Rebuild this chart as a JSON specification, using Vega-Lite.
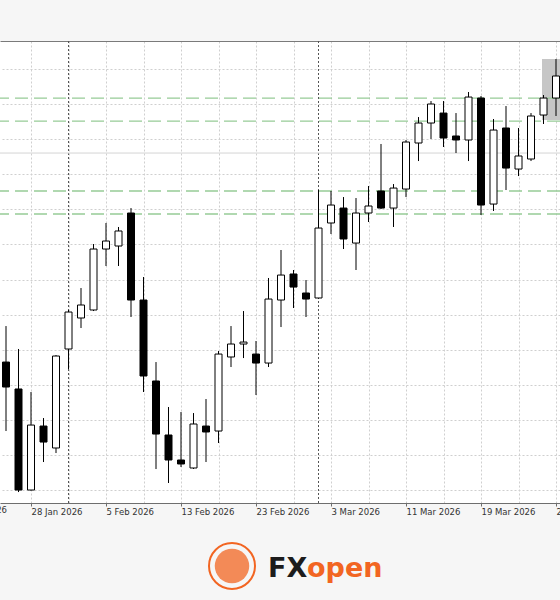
{
  "$schema": "https://vega.github.io/schema/vega-lite/v6.json",
  "width": 560,
  "height": 462,
  "autosize": {"type": "none"},
  "padding": {"left": 0, "top": 41, "right": 0, "bottom": 97},
  "background": "#f6f6f6",
  "config": {"view": {"stroke": null, "fill": "white"}},
  "datasets": {
    "candles": [
      {"i": 0, "date": "26 Jan 2026", "open": 118.24, "high": 123.37, "low": 108.41, "close": 114.68},
      {"i": 1, "date": "27 Jan 2026", "open": 114.40, "high": 120.10, "low": 99.71, "close": 100.00},
      {"i": 2, "date": "28 Jan 2026", "open": 100.00, "high": 113.97, "low": 99.93, "close": 109.26},
      {"i": 3, "date": "29 Jan 2026", "open": 109.12, "high": 110.26, "low": 103.99, "close": 106.84},
      {"i": 4, "date": "30 Jan 2026", "open": 105.99, "high": 119.24, "low": 105.27, "close": 119.10},
      {"i": 5, "date": "2 Feb 2026", "open": 120.10, "high": 125.66, "low": 117.25, "close": 125.37},
      {"i": 6, "date": "3 Feb 2026", "open": 124.52, "high": 128.79, "low": 123.09, "close": 126.37},
      {"i": 7, "date": "4 Feb 2026", "open": 125.66, "high": 135.06, "low": 125.51, "close": 134.35},
      {"i": 8, "date": "5 Feb 2026", "open": 134.35, "high": 138.06, "low": 131.93, "close": 135.49},
      {"i": 9, "date": "6 Feb 2026", "open": 134.78, "high": 137.49, "low": 131.93, "close": 136.92},
      {"i": 10, "date": "9 Feb 2026", "open": 139.48, "high": 140.19, "low": 124.66, "close": 127.08},
      {"i": 11, "date": "10 Feb 2026", "open": 127.08, "high": 130.36, "low": 113.97, "close": 116.25},
      {"i": 12, "date": "11 Feb 2026", "open": 115.54, "high": 118.24, "low": 102.99, "close": 107.98},
      {"i": 13, "date": "12 Feb 2026", "open": 107.84, "high": 111.83, "low": 101.00, "close": 104.28},
      {"i": 14, "date": "13 Feb 2026", "open": 104.28, "high": 111.12, "low": 103.28, "close": 103.71},
      {"i": 15, "date": "16 Feb 2026", "open": 103.14, "high": 110.97, "low": 103.00, "close": 109.41},
      {"i": 16, "date": "17 Feb 2026", "open": 109.12, "high": 112.97, "low": 103.99, "close": 108.27},
      {"i": 17, "date": "18 Feb 2026", "open": 108.41, "high": 119.81, "low": 106.70, "close": 119.38},
      {"i": 18, "date": "19 Feb 2026", "open": 118.96, "high": 123.37, "low": 117.53, "close": 120.81},
      {"i": 19, "date": "20 Feb 2026", "open": 120.81, "high": 125.51, "low": 118.81, "close": 121.09},
      {"i": 20, "date": "23 Feb 2026", "open": 119.38, "high": 121.24, "low": 113.54, "close": 118.10},
      {"i": 21, "date": "24 Feb 2026", "open": 118.10, "high": 130.22, "low": 117.53, "close": 127.22},
      {"i": 22, "date": "25 Feb 2026", "open": 127.08, "high": 134.21, "low": 123.23, "close": 130.64},
      {"i": 23, "date": "26 Feb 2026", "open": 130.79, "high": 131.36, "low": 125.94, "close": 128.93},
      {"i": 24, "date": "27 Feb 2026", "open": 128.08, "high": 129.93, "low": 124.66, "close": 127.22},
      {"i": 25, "date": "2 Mar 2026", "open": 127.37, "high": 142.76, "low": 127.30, "close": 137.34},
      {"i": 26, "date": "3 Mar 2026", "open": 138.06, "high": 142.62, "low": 136.49, "close": 140.62},
      {"i": 27, "date": "4 Mar 2026", "open": 140.19, "high": 141.76, "low": 134.35, "close": 135.78},
      {"i": 28, "date": "5 Mar 2026", "open": 135.20, "high": 141.62, "low": 131.36, "close": 139.48},
      {"i": 29, "date": "6 Mar 2026", "open": 139.48, "high": 143.33, "low": 138.20, "close": 140.48},
      {"i": 30, "date": "9 Mar 2026", "open": 142.62, "high": 149.32, "low": 140.05, "close": 140.19},
      {"i": 31, "date": "10 Mar 2026", "open": 140.19, "high": 143.61, "low": 137.49, "close": 143.04},
      {"i": 32, "date": "11 Mar 2026", "open": 142.90, "high": 149.89, "low": 141.76, "close": 149.60},
      {"i": 33, "date": "12 Mar 2026", "open": 149.46, "high": 153.16, "low": 146.89, "close": 152.31},
      {"i": 34, "date": "13 Mar 2026", "open": 152.31, "high": 155.44, "low": 150.03, "close": 155.02},
      {"i": 35, "date": "16 Mar 2026", "open": 153.73, "high": 155.44, "low": 148.89, "close": 150.17},
      {"i": 36, "date": "17 Mar 2026", "open": 150.46, "high": 153.73, "low": 148.03, "close": 149.89},
      {"i": 37, "date": "18 Mar 2026", "open": 149.89, "high": 156.73, "low": 146.89, "close": 156.01},
      {"i": 38, "date": "19 Mar 2026", "open": 155.87, "high": 156.16, "low": 139.20, "close": 140.62},
      {"i": 39, "date": "20 Mar 2026", "open": 140.76, "high": 152.88, "low": 139.77, "close": 151.31},
      {"i": 40, "date": "23 Mar 2026", "open": 151.60, "high": 154.73, "low": 142.76, "close": 145.89},
      {"i": 41, "date": "24 Mar 2026", "open": 145.75, "high": 151.60, "low": 144.75, "close": 147.61},
      {"i": 42, "date": "25 Mar 2026", "open": 147.18, "high": 153.73, "low": 146.89, "close": 153.31},
      {"i": 43, "date": "26 Mar 2026", "open": 153.45, "high": 156.30, "low": 152.17, "close": 155.87},
      {"i": 44, "date": "27 Mar 2026", "open": 155.87, "high": 161.43, "low": 153.31, "close": 159.01}
    ],
    "zones": [{"x0": 42.88, "x1": 45.5, "lo": 152.74, "hi": 161.43}],
    "levels": [{"level": 155.87}, {"level": 152.59}, {"level": 142.62}, {"level": 139.34}],
    "lines": [{"level": 148.03}],
    "months": [{"i": 5}, {"i": 25}],
    "partial": [{"i": -4, "p": 97.72, "label": "20 Jan 2026"}],
    "logo": [
      {"part": "emblem", "i": 18.08, "p": 89.17},
      {"part": "FX", "i": 20.96, "p": 87.6},
      {"part": "open", "i": 24.08, "p": 87.6}
    ]
  },
  "encoding": {
    "x": {"type": "quantitative", "scale": {"domain": [-0.48, 44.32], "nice": false, "zero": false, "padding": 0}},
    "y": {"type": "quantitative", "scale": {"domain": [98.15, 164.0], "nice": false, "zero": false, "padding": 0}}
  },
  "resolve": {"axis": {"x": "independent", "y": "independent"}},
  "layer": [
    {
      "data": {"name": "zones"},
      "mark": {"type": "rect", "color": "#c6c6c6", "clip": true},
      "encoding": {
        "x": {"field": "x0", "type": "quantitative", "axis": null},
        "x2": {"field": "x1"},
        "y": {"field": "lo", "type": "quantitative", "axis": null},
        "y2": {"field": "hi"}
      }
    },
    {
      "data": {"name": "months"},
      "mark": {"type": "rule", "color": "#555555", "strokeDash": [2, 2], "strokeWidth": 1},
      "encoding": {
        "x": {
          "field": "i", "type": "quantitative",
          "axis": {
            "orient": "top", "title": null,
            "values": [2, 5, 8, 11, 14, 17, 20, 23, 26, 29, 32, 35, 38, 41, 44],
            "grid": true, "gridColor": "#cfcfcf", "gridDash": [2, 2], "gridWidth": 1,
            "labels": false, "ticks": false,
            "domain": true, "domainColor": "#7a7a7a", "domainWidth": 1
          }
        }
      }
    },
    {
      "data": {"name": "lines"},
      "mark": {"type": "rule", "color": "#d4d4d4", "strokeWidth": 1},
      "encoding": {
        "y": {
          "field": "level", "type": "quantitative",
          "axis": {
            "orient": "right", "title": null,
            "values": [100, 105, 110, 115, 120, 125, 130, 135, 140, 145, 150, 155, 160],
            "grid": true, "gridColor": "#cfcfcf", "gridDash": [2, 2], "gridWidth": 1,
            "labels": false, "ticks": false, "domain": false
          }
        }
      }
    },
    {
      "data": {"name": "levels"},
      "mark": {"type": "rule", "color": "#97cc97", "strokeDash": [13, 6], "strokeWidth": 1.3},
      "encoding": {
        "y": {"field": "level", "type": "quantitative", "axis": null}
      }
    },
    {
      "data": {"name": "candles"},
      "mark": {"type": "rule", "color": "#000000", "strokeWidth": 1},
      "encoding": {
        "x": {
          "field": "i", "type": "quantitative",
          "axis": {
            "orient": "bottom", "title": null,
            "values": [2, 8, 14, 20, 26, 32, 38, 44],
            "labelExpr": "{'2': '28 Jan 2026', '8': '5 Feb 2026', '14': '13 Feb 2026', '20': '23 Feb 2026', '26': '3 Mar 2026', '32': '11 Mar 2026', '38': '19 Mar 2026', '44': '27 Mar 2026'}[datum.value + '']",
            "grid": false,
            "ticks": true, "tickSize": 3, "tickColor": "#6e6e6e",
            "domain": true, "domainColor": "#6e6e6e",
            "labelAlign": "left", "labelFont": "DejaVu Sans", "labelFontSize": 8.5,
            "labelColor": "#333333", "labelPadding": 1, "labelOverlap": false, "labelFlush": false
          }
        },
        "y": {"field": "low", "type": "quantitative", "axis": null},
        "y2": {"field": "high"}
      }
    },
    {
      "data": {"name": "candles"},
      "mark": {"type": "bar", "size": 7, "stroke": "#000000", "strokeWidth": 1},
      "encoding": {
        "x": {"field": "i", "type": "quantitative", "axis": null},
        "y": {"field": "open", "type": "quantitative", "axis": null},
        "y2": {"field": "close"},
        "fill": {"condition": {"test": "datum.close < datum.open", "value": "#000000"}, "value": "#ffffff"}
      }
    },
    {
      "data": {"name": "partial"},
      "mark": {"type": "text", "align": "left", "baseline": "top", "font": "DejaVu Sans", "fontSize": 8.5, "color": "#333333"},
      "encoding": {
        "x": {"field": "i", "type": "quantitative", "axis": null},
        "y": {"field": "p", "type": "quantitative", "axis": null},
        "text": {"field": "label"}
      }
    },
    {
      "data": {"name": "logo"},
      "transform": [{"filter": "datum.part == 'emblem'"}],
      "mark": {"type": "point", "shape": "circle", "size": 2116, "filled": false, "stroke": "#f26522", "strokeWidth": 2, "opacity": 1},
      "encoding": {
        "x": {"field": "i", "type": "quantitative", "axis": null},
        "y": {"field": "p", "type": "quantitative", "axis": null}
      }
    },
    {
      "data": {"name": "logo"},
      "transform": [{"filter": "datum.part == 'emblem'"}],
      "mark": {"type": "point", "shape": "circle", "size": 1190, "filled": true, "color": "#f26522", "opacity": 0.75},
      "encoding": {
        "x": {"field": "i", "type": "quantitative", "axis": null},
        "y": {"field": "p", "type": "quantitative", "axis": null}
      }
    },
    {
      "data": {"name": "logo"},
      "transform": [{"filter": "datum.part == 'FX'"}],
      "mark": {"type": "text", "align": "left", "baseline": "alphabetic", "font": "DejaVu Sans", "fontWeight": "bold", "fontSize": 27, "color": "#1c1c1c"},
      "encoding": {
        "x": {"field": "i", "type": "quantitative", "axis": null},
        "y": {"field": "p", "type": "quantitative", "axis": null},
        "text": {"field": "part"}
      }
    },
    {
      "data": {"name": "logo"},
      "transform": [{"filter": "datum.part == 'open'"}],
      "mark": {"type": "text", "align": "left", "baseline": "alphabetic", "font": "DejaVu Sans", "fontWeight": "bold", "fontSize": 27, "color": "#f26522"},
      "encoding": {
        "x": {"field": "i", "type": "quantitative", "axis": null},
        "y": {"field": "p", "type": "quantitative", "axis": null},
        "text": {"field": "part"}
      }
    }
  ]
}
